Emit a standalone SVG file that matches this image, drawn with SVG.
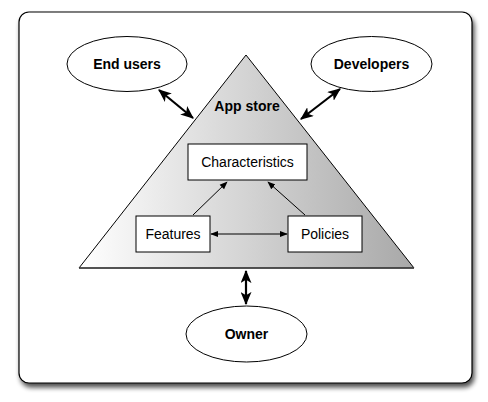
<svg xmlns="http://www.w3.org/2000/svg" width="488" height="402" viewBox="0 0 488 402">
  <style>
    .frame { fill: #ffffff; stroke: #000000; stroke-width: 1.2; }
    .actor { fill: #ffffff; stroke: #000000; stroke-width: 1; }
    .box { fill: #ffffff; stroke: #000000; stroke-width: 1; }
    .bold { font-family: "Liberation Sans", Arial, sans-serif; font-weight: bold; font-size: 14px; text-anchor: middle; fill: #000; }
    .label { font-family: "Liberation Sans", Arial, sans-serif; font-size: 14px; text-anchor: middle; fill: #000; }
    .thin { stroke: #000; stroke-width: 1; fill: none; }
    .thick { stroke: #000; stroke-width: 2.2; fill: none; }
  </style>
  <defs>
    <linearGradient id="storeFill" x1="0" y1="0" x2="1" y2="0">
      <stop offset="0" stop-color="#ffffff"/>
      <stop offset="1" stop-color="#a8a8a8"/>
    </linearGradient>
    <filter id="shadow" x="-10%" y="-10%" width="120%" height="120%">
      <feGaussianBlur in="SourceAlpha" stdDeviation="2.5"/>
      <feOffset dx="2" dy="4" result="b"/>
      <feComponentTransfer><feFuncA type="linear" slope="0.7"/></feComponentTransfer>
      <feMerge><feMergeNode/><feMergeNode in="SourceGraphic"/></feMerge>
    </filter>
    <marker id="head" viewBox="0 0 10 10" refX="9" refY="5" markerWidth="8" markerHeight="8" markerUnits="userSpaceOnUse" orient="auto-start-reverse">
      <path d="M0,1 L10,5 L0,9 Z" fill="#000"/>
    </marker>
    <marker id="bighead" viewBox="0 0 12 10" refX="11" refY="5" markerWidth="6" markerHeight="5" orient="auto-start-reverse">
      <path d="M0,0 L12,5 L0,10 L3,5 Z" fill="#000"/>
    </marker>
  </defs>

  <!-- outer frame -->
  <rect class="frame" x="19" y="12" width="453" height="371" rx="10" ry="10" filter="url(#shadow)"/>

  <!-- app store pyramid -->
  <g id="app-store">
    <polygon points="246,55 414,268 79,268" fill="url(#storeFill)" stroke="#000" stroke-width="1"/>
    <line x1="79" y1="268" x2="414" y2="268" stroke="#444" stroke-width="1.5"/>
    <text class="bold" x="247" y="111">App store</text>
  </g>

  <g id="end-users">
    <ellipse class="actor" cx="127" cy="64" rx="60" ry="27.5"/>
    <text class="bold" x="127" y="69">End users</text>
  </g>

  <g id="developers">
    <ellipse class="actor" cx="371.5" cy="64" rx="60.5" ry="27.5"/>
    <text class="bold" x="371.5" y="69">Developers</text>
  </g>

  <g id="owner">
    <ellipse class="actor" cx="246.5" cy="334" rx="60.5" ry="28"/>
    <text class="bold" x="246.5" y="339">Owner</text>
  </g>

  <g id="characteristics">
    <rect class="box" x="188" y="144" width="119" height="36"/>
    <text class="label" x="247.5" y="167">Characteristics</text>
  </g>

  <g id="features">
    <rect class="box" x="136" y="216" width="74" height="36"/>
    <text class="label" x="173" y="239">Features</text>
  </g>

  <g id="policies">
    <rect class="box" x="288" y="216" width="74" height="36"/>
    <text class="label" x="325" y="239">Policies</text>
  </g>

  <!-- connectors -->
  <g id="connectors">
    <line class="thin" x1="193" y1="215" x2="227" y2="182" marker-end="url(#head)"/>
    <line class="thin" x1="305" y1="215" x2="268" y2="182" marker-end="url(#head)"/>
    <line class="thin" x1="211" y1="234" x2="287" y2="234" marker-start="url(#head)" marker-end="url(#head)"/>
    <line class="thick" x1="159" y1="90" x2="193" y2="118" marker-start="url(#bighead)" marker-end="url(#bighead)"/>
    <line class="thick" x1="340" y1="89" x2="301" y2="119" marker-start="url(#bighead)" marker-end="url(#bighead)"/>
    <line class="thick" x1="246" y1="271" x2="246" y2="304" marker-start="url(#bighead)" marker-end="url(#bighead)"/>
  </g>
</svg>
